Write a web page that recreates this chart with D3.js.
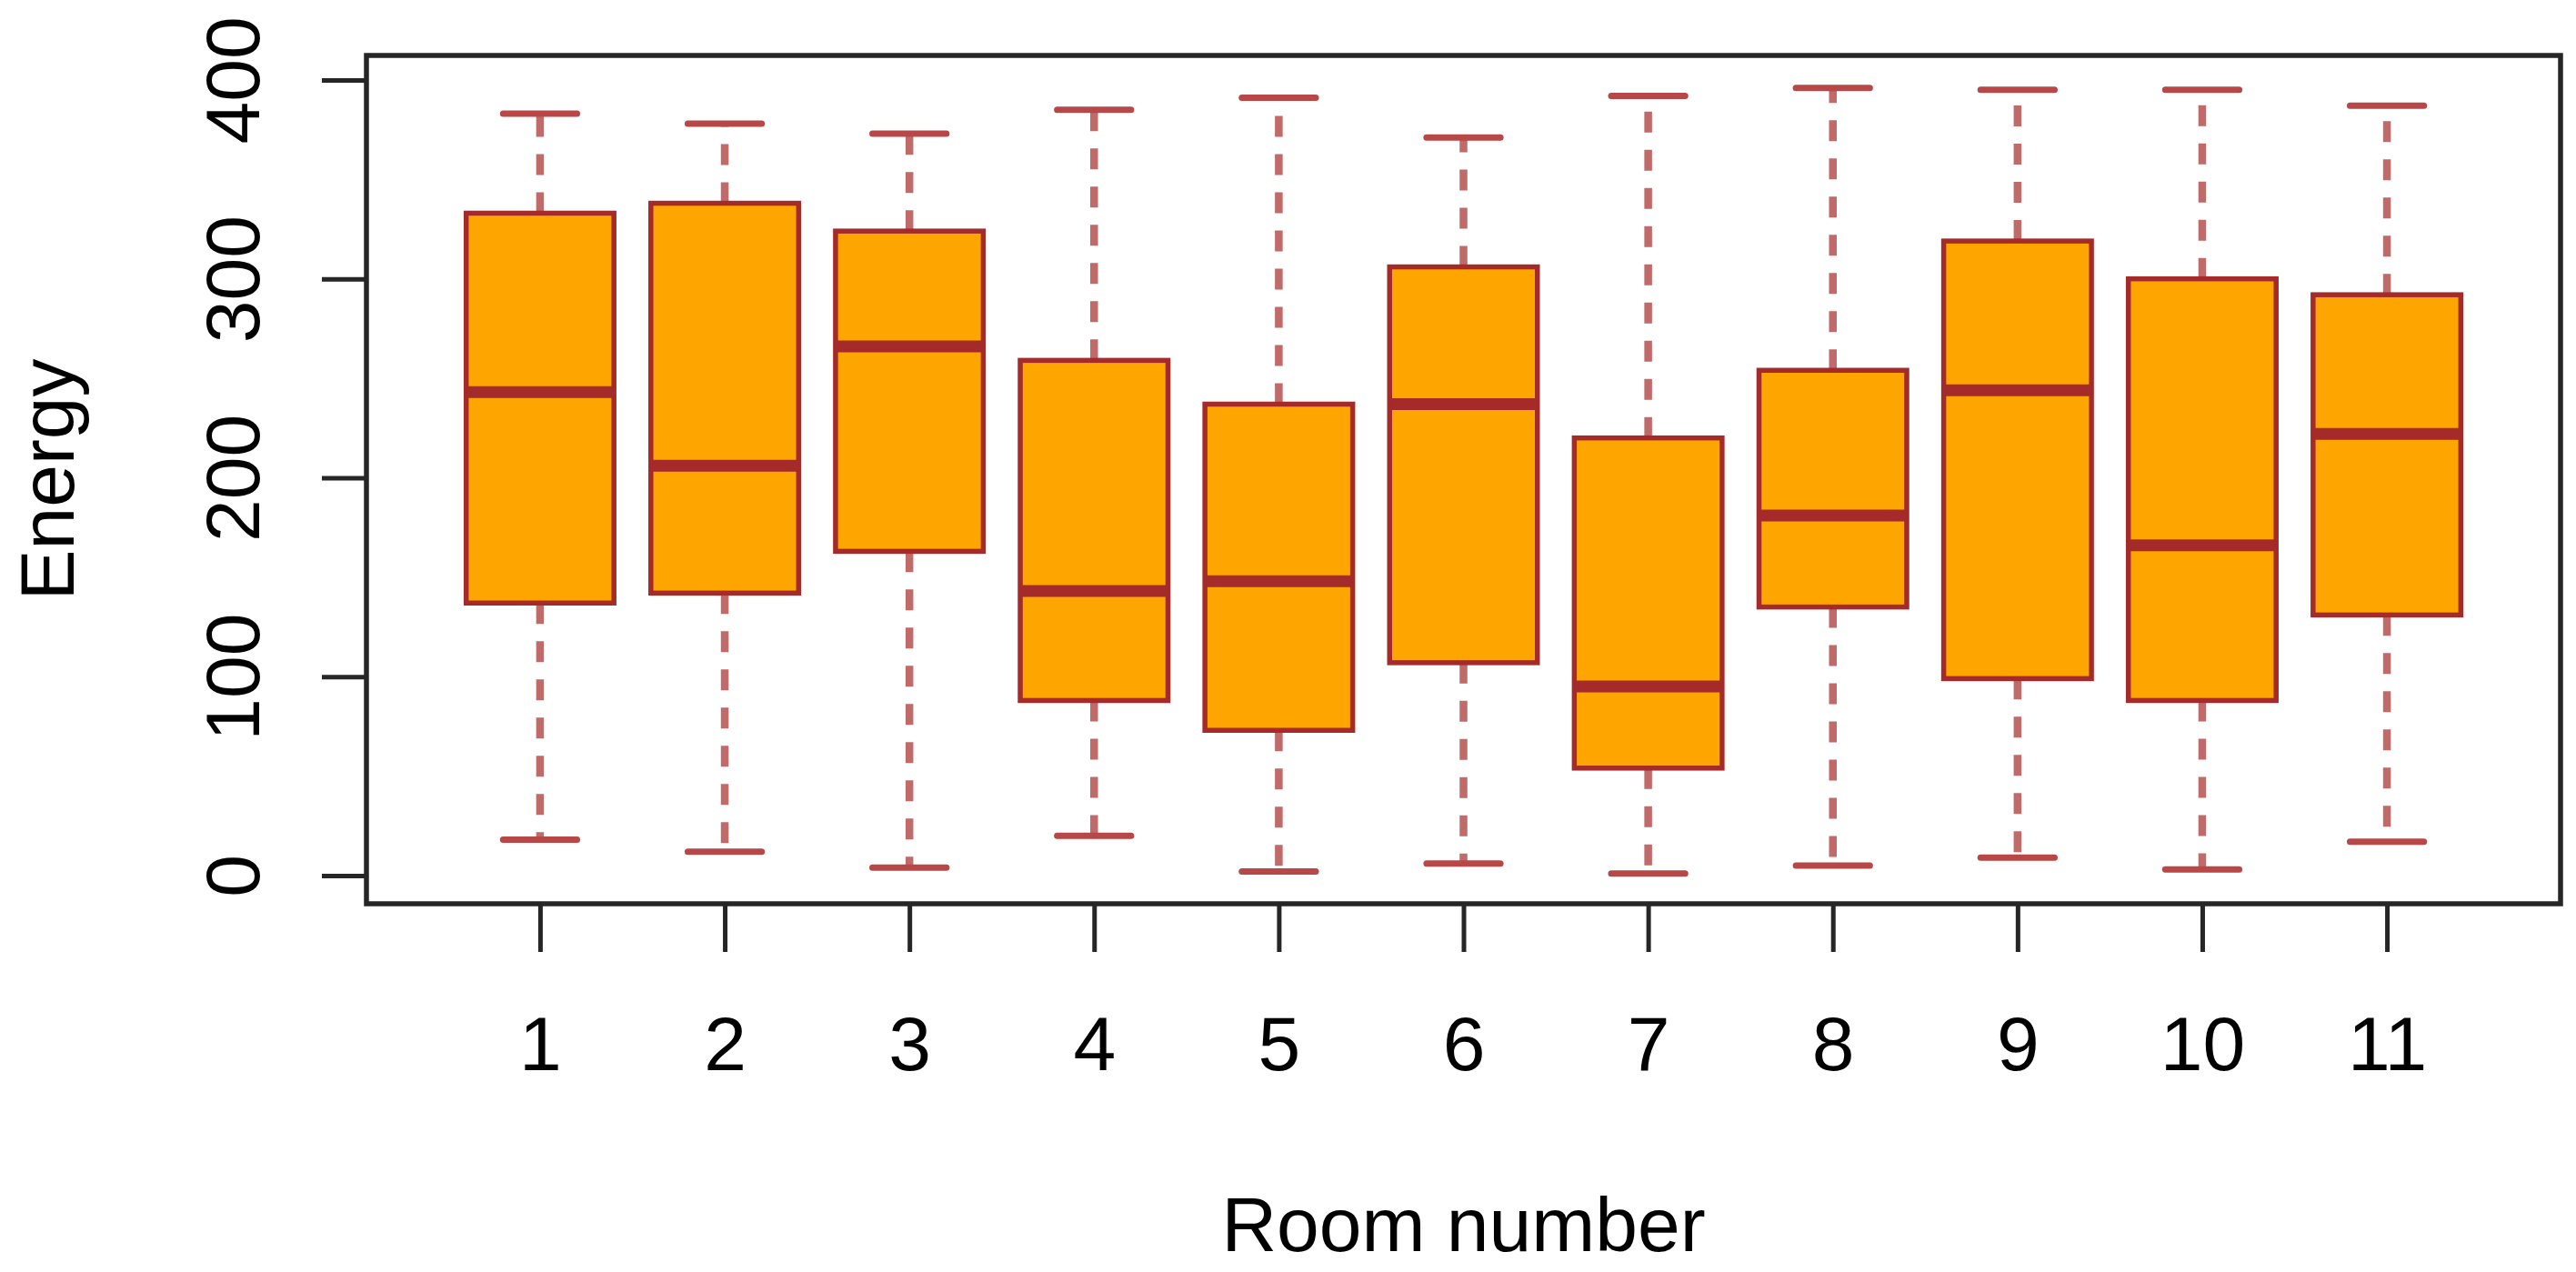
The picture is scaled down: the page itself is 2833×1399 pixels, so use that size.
<!DOCTYPE html>
<html>
<head>
<meta charset="utf-8">
<script src="https://cdn.jsdelivr.net/npm/d3@7"></script>
<style>
  html, body { margin: 0; padding: 0; background: #ffffff; }
  svg { display: block; }
</style>
</head>
<body>
<svg id="chart" width="2833" height="1399"></svg>
<script>
// ---- data ----
const rooms       = ["1", "2", "3", "4", "5", "6", "7", "8", "9", "10", "11"];
const whiskerHigh = [383, 378, 373, 385, 391, 371, 392, 396, 395, 395, 387];
const q3          = [333, 338, 324, 259, 237, 306, 220, 254, 319, 300, 292];
const medians     = [243, 206, 266, 143, 148, 237,  95, 181, 244, 166, 222];
const q1          = [137, 142, 163,  88,  73, 107,  54, 135,  99,  88, 131];
const whiskerLow  = [ 18,  12,   4,  20,   2,   6,   1,   5,   9,   3,  17];
const yTicks      = [0, 100, 200, 300, 400];
const xTitle = "Room number";
const yTitle = "Energy";

// ---- layout ----
const plot = { left: 403, right: 2816, top: 61, bottom: 994 };
const FONT = "'Liberation Sans', Arial, Helvetica, sans-serif";
const FS = 84;
const BROWN = "#a52a2a";
const WHISK = "#c06a6a";

const svg = d3.select("#chart");

const x = d3.scaleLinear().domain([0.06, 11.94]).range([plot.left, plot.right]);
const y = d3.scaleLinear().domain([-14.2, 412.3]).range([plot.bottom, plot.top]);

const boxHalf = 0.4, stapleHalf = 0.2;

const data = rooms.map((r, i) => ({
  room: r, pos: i + 1,
  lo: whiskerLow[i], q1: q1[i], med: medians[i], q3: q3[i], hi: whiskerHigh[i]
}));

const g = svg.append("g");

// whiskers (dashed)
const bx = g.selectAll("g.box").data(data).join("g").attr("class", "box");

bx.append("line")
  .attr("x1", d => x(d.pos)).attr("x2", d => x(d.pos))
  .attr("y1", d => y(d.q3)).attr("y2", d => y(d.hi))
  .attr("stroke", WHISK).attr("stroke-width", 8.5)
  .attr("stroke-dasharray", "23,19");
bx.append("line")
  .attr("x1", d => x(d.pos)).attr("x2", d => x(d.pos))
  .attr("y1", d => y(d.q1)).attr("y2", d => y(d.lo))
  .attr("stroke", WHISK).attr("stroke-width", 8.5)
  .attr("stroke-dasharray", "23,19");

// staples
bx.append("line")
  .attr("x1", d => x(d.pos - stapleHalf)).attr("x2", d => x(d.pos + stapleHalf))
  .attr("y1", d => y(d.hi)).attr("y2", d => y(d.hi))
  .attr("stroke", "#b84848").attr("stroke-width", 7).attr("stroke-linecap", "round");
bx.append("line")
  .attr("x1", d => x(d.pos - stapleHalf)).attr("x2", d => x(d.pos + stapleHalf))
  .attr("y1", d => y(d.lo)).attr("y2", d => y(d.lo))
  .attr("stroke", "#b84848").attr("stroke-width", 7).attr("stroke-linecap", "round");

// boxes
bx.append("rect")
  .attr("x", d => x(d.pos - boxHalf))
  .attr("width", d => x(d.pos + boxHalf) - x(d.pos - boxHalf))
  .attr("y", d => y(d.q3))
  .attr("height", d => y(d.q1) - y(d.q3))
  .attr("fill", "#ffa500")
  .attr("stroke", BROWN).attr("stroke-width", 5.5);

// medians
bx.append("line")
  .attr("x1", d => x(d.pos - boxHalf)).attr("x2", d => x(d.pos + boxHalf))
  .attr("y1", d => y(d.med)).attr("y2", d => y(d.med))
  .attr("stroke", BROWN).attr("stroke-width", 13);

// plot frame
svg.append("rect")
  .attr("x", plot.left).attr("y", plot.top)
  .attr("width", plot.right - plot.left).attr("height", plot.bottom - plot.top)
  .attr("fill", "none").attr("stroke", "#262626").attr("stroke-width", 5.5);

// y axis
const yAxis = d3.axisLeft(y).tickValues(yTicks).tickSize(49).tickFormat(d3.format("d"));
const gy = svg.append("g").attr("transform", `translate(${plot.left},0)`).call(yAxis);
gy.select(".domain").remove();
gy.selectAll(".tick line").attr("stroke", "#262626").attr("stroke-width", 5);
gy.selectAll(".tick text")
  .attr("x", null).attr("dy", null).attr("y", null)
  .attr("transform", "translate(-118,0) rotate(-90)")
  .attr("text-anchor", "middle")
  .attr("fill", "#000")
  .style("font-family", FONT).style("font-size", FS + "px");

// x axis
const xAxis = d3.axisBottom(x).tickValues(data.map(d => d.pos))
  .tickFormat((d, i) => rooms[i]).tickSize(53);
const gx = svg.append("g").attr("transform", `translate(0,${plot.bottom})`).call(xAxis);
gx.select(".domain").remove();
gx.selectAll(".tick line").attr("stroke", "#262626").attr("stroke-width", 5);
gx.selectAll(".tick text")
  .attr("y", 183).attr("dy", null)
  .attr("text-anchor", "middle")
  .attr("fill", "#000")
  .style("font-family", FONT).style("font-size", FS + "px");

// axis titles
svg.append("text")
  .attr("x", (plot.left + plot.right) / 2).attr("y", 1376)
  .attr("text-anchor", "middle")
  .style("font-family", FONT).style("font-size", FS + "px")
  .attr("fill", "#000")
  .text(xTitle);

svg.append("text")
  .attr("transform", `translate(81,${(plot.top + plot.bottom) / 2}) rotate(-90)`)
  .attr("text-anchor", "middle")
  .style("font-family", FONT).style("font-size", FS + "px")
  .attr("fill", "#000")
  .text(yTitle);
</script>
</body>
</html>
